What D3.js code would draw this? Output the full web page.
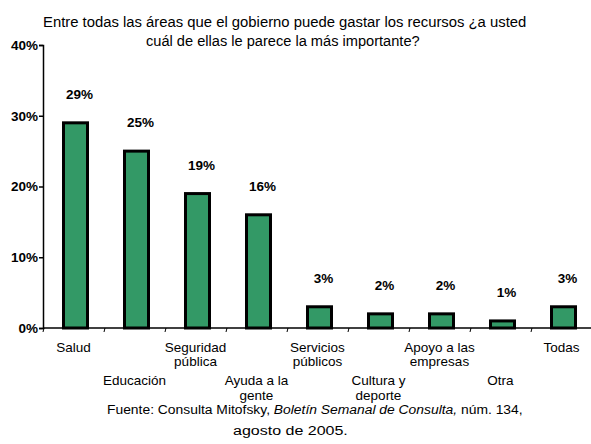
<!DOCTYPE html>
<html><head><meta charset="utf-8">
<script src="https://cdn.jsdelivr.net/npm/d3@7"></script>
<style>
body{margin:0;background:#fff;}
svg{display:block;}
</style></head>
<body>
<svg id="c" width="591" height="444"></svg>
<script>
const categories = ["Salud","Educación","Seguridad pública","Ayuda a la gente","Servicios públicos","Cultura y deporte","Apoyo a las empresas","Otra","Todas"];
const labelLines = [["Salud"],["Educación"],["Seguridad","pública"],["Ayuda a la","gente"],["Servicios","públicos"],["Cultura y","deporte"],["Apoyo a las","empresas"],["Otra"],["Todas"]];
const labelRow = [0,1,0,1,0,1,0,1,0];
const values = [29,25,19,16,3,2,2,1,3];
const yTicks = [0,10,20,30,40];
const titleLines = ["Entre todas las áreas que el gobierno puede gastar los recursos ¿a usted","cuál de ellas le parece la más importante?"];

(function(){
const svg = d3.select("#c");
const mLeft = 43, mRight = 592, mTop = 45, mBottom = 328;
const x = d3.scaleBand().domain(categories).range([mLeft,mRight]).padding(0);
const y = d3.scaleLinear().domain([0,40]).range([mBottom,mTop]);
const arial = "Arial, 'Liberation Sans', sans-serif";

// fit a text horizontally between x0 and x1 by condensing it (narrow face)
function fitText(sel, x0, x1, yb){
  sel.attr("x",0).attr("y",0).attr("text-anchor","start");
  const w = sel.node().getComputedTextLength();
  const s = (x1-x0)/w;
  sel.attr("transform",`translate(${x0},${yb}) scale(${s},1)`);
}

// title
const tExt = [[43,527],[146,420]];
titleLines.forEach((t,i)=>{
  const el = svg.append("text").attr("font-family",arial).attr("font-size",15).attr("fill","#000").text(t);
  fitText(el, tExt[i][0], tExt[i][1], 27+i*19);
});

// bars
const bw = 24;
svg.append("g").selectAll("rect").data(values).join("rect")
  .attr("x",(d,i)=>x(categories[i])+x.bandwidth()/2-bw/2+2)
  .attr("y",d=>y(d))
  .attr("width",bw)
  .attr("height",d=>mBottom-y(d))
  .attr("fill","#339966").attr("stroke","#000").attr("stroke-width",3);

// value labels
svg.append("g").selectAll("text").data(values).join("text")
  .attr("x",(d,i)=>x(categories[i])+x.bandwidth()/2+6)
  .attr("y",d=>y(d)-24)
  .attr("text-anchor","middle")
  .attr("font-family",arial).attr("font-weight","bold").attr("font-size",13.5)
  .text(d=>d+"%");

// y axis
const ya = svg.append("g").attr("transform",`translate(${mLeft},0)`)
  .call(d3.axisLeft(y).tickValues(yTicks).tickFormat(d=>d+"%").tickSize(4).tickPadding(1));
ya.select(".domain").attr("stroke","#000").attr("stroke-width",1.5);
ya.selectAll(".tick line").attr("stroke","#000").attr("stroke-width",1.5);
ya.selectAll(".tick text").attr("font-family",arial).attr("font-weight","bold").attr("font-size",13.5).attr("fill","#000");

// x axis
const xa = svg.append("g").attr("transform",`translate(0,${mBottom})`)
  .call(d3.axisBottom(x).tickSize(0).tickFormat(""));
xa.select(".domain").attr("stroke","#000").attr("stroke-width",1.5).attr("d",`M${mLeft},0H591`);
svg.append("g").selectAll("line").data(categories).join("line")
  .attr("x1",d=>x(d)+1).attr("x2",d=>x(d))
  .attr("y1",mBottom).attr("y2",mBottom+4)
  .attr("stroke","#000").attr("stroke-width",1);

// category labels
const cl = svg.append("g");
labelLines.forEach((lines,i)=>{
  const cx = x(categories[i])+x.bandwidth()/2;
  const baseY = labelRow[i]===0 ? 351.5 : 385;
  lines.forEach((ln,j)=>{
    cl.append("text").attr("x",cx).attr("y",baseY+j*14.5)
      .attr("text-anchor","middle")
      .attr("font-family",arial).attr("font-size",13.5).attr("fill","#000")
      .text(ln);
  });
});

// footer
const f1 = svg.append("text").attr("font-family",arial).attr("font-size",13.5).attr("fill","#000");
f1.append("tspan").text("Fuente: Consulta Mitofsky, ");
f1.append("tspan").attr("font-style","italic").text("Boletín Semanal de Consulta,");
f1.append("tspan").text(" núm. 134,");
fitText(f1, 107, 523, 414);
const f2 = svg.append("text").attr("font-family",arial).attr("font-size",13.5).attr("fill","#000")
  .text("agosto de 2005.");
fitText(f2, 233, 348, 435);
})();
</script>
</body></html>
